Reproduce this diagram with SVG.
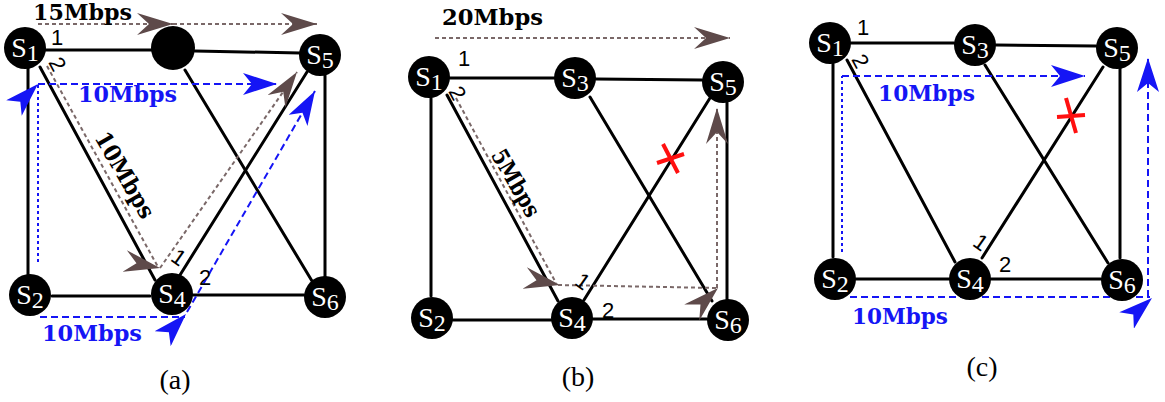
<svg xmlns="http://www.w3.org/2000/svg" width="1165" height="402" viewBox="0 0 1165 402">
<defs>
<style>
.e{stroke:#000;stroke-width:3;fill:none;stroke-linecap:round}
.bl{stroke:#1515f5;stroke-width:2;fill:none;stroke-dasharray:7 4}
.blp{stroke:#1515f5;stroke-width:2;fill:none;stroke-dasharray:3 3}
.br{stroke:#7a6868;stroke-width:2;fill:none;stroke-dasharray:4 3}
.hd{stroke:none;fill:none}
.nd circle{fill:#000}
.nd text{fill:#fff;font-family:"Liberation Serif",serif;font-size:28px;text-anchor:middle}
.sub{font-size:24px}
.pt{font-family:"Liberation Sans",sans-serif;font-size:22px;fill:#000;text-anchor:middle}
.rate{font-family:"DejaVu Serif",serif;font-weight:bold;font-size:23px;fill:#000}
.blue{fill:#1515f5}
.cap{font-family:"Liberation Serif",serif;font-size:28px;text-anchor:middle;fill:#000}
.x{stroke:#ff1010;stroke-width:4}
</style>
<marker id="mb" viewBox="0 0 34 22" refX="34" refY="11" markerWidth="34" markerHeight="22" markerUnits="userSpaceOnUse" orient="auto"><path d="M0,0 L34,11 L0,22 L9,11 z" fill="#1515f5"/></marker>
<marker id="mr" viewBox="0 0 36 22" refX="36" refY="11" markerWidth="36" markerHeight="22" markerUnits="userSpaceOnUse" orient="auto"><path d="M0,0 L36,11 L0,22 L12,11 z" fill="#5e4a4a"/></marker>
</defs>
<rect width="1165" height="402" fill="#fff"/>

<g id="connectors">
  <!-- panel a edges -->
  <line class="e" x1="45" y1="50" x2="152" y2="50"/>
  <line class="e" x1="195" y1="51" x2="300" y2="53"/>
  <line class="e" x1="28" y1="68" x2="28" y2="275"/>
  <line class="e" x1="40" y1="67" x2="155" y2="280"/>
  <line class="e" x1="185" y1="70" x2="312" y2="281"/>
  <line class="e" x1="307" y1="72" x2="180" y2="275"/>
  <line class="e" x1="325" y1="75" x2="325" y2="278"/>
  <line class="e" x1="52" y1="296" x2="150" y2="296"/>
  <line class="e" x1="193" y1="295" x2="304" y2="295"/>
  <!-- panel a flows -->
  <path class="br" d="M38,24 H173" marker-end="url(#mr)"/>
  <path class="br" d="M173,24 H317" marker-end="url(#mr)"/>
  <path class="br" d="M47,66 L158,267"/>
  <path class="hd" d="M140,264 L160,268" marker-end="url(#mr)"/>
  <path class="br" d="M160,268 L297,72" marker-end="url(#mr)"/>
  <path class="blp" d="M38,262 V84"/>
  <path class="bl" d="M38,84 H277" marker-end="url(#mb)"/>
  <path class="hd" d="M20,102 L38,84" marker-end="url(#mb)"/>
  <path class="bl" d="M40,317 H185"/>
  <path class="hd" d="M170,331 L186,314" marker-end="url(#mb)"/>
  <path class="bl" d="M187,312 L315,91" marker-end="url(#mb)"/>

  <!-- panel b edges -->
  <line class="e" x1="450" y1="78" x2="554" y2="78"/>
  <line class="e" x1="596" y1="79" x2="702" y2="80"/>
  <line class="e" x1="431" y1="98" x2="431" y2="296"/>
  <line class="e" x1="447" y1="95" x2="558" y2="301"/>
  <line class="e" x1="590" y1="97" x2="712" y2="301"/>
  <line class="e" x1="710" y1="98" x2="584" y2="300"/>
  <line class="e" x1="727" y1="103" x2="727" y2="300"/>
  <line class="e" x1="453" y1="320" x2="551" y2="320"/>
  <line class="e" x1="593" y1="319" x2="707" y2="319"/>
  <!-- panel b flows -->
  <path class="br" d="M435,38 H730" marker-end="url(#mr)"/>
  <path class="br" d="M456,98 L556,283"/>
  <path class="hd" d="M540,281 L560,285" marker-end="url(#mr)"/>
  <path class="br" d="M558,285 L717,288"/>
  <path class="hd" d="M702,303 L718,288" marker-end="url(#mr)"/>
  <path class="br" d="M717,288 V108" marker-end="url(#mr)"/>
  <line class="x" x1="657" y1="163" x2="684" y2="154"/>
  <line class="x" x1="663" y1="144" x2="678" y2="173"/>

  <!-- panel c edges -->
  <line class="e" x1="851" y1="43" x2="954" y2="43"/>
  <line class="e" x1="996" y1="45" x2="1096" y2="46"/>
  <line class="e" x1="833" y1="64" x2="833" y2="257"/>
  <line class="e" x1="847" y1="60" x2="955" y2="262"/>
  <line class="e" x1="985" y1="65" x2="1108" y2="263"/>
  <line class="e" x1="1103" y1="67" x2="982" y2="258"/>
  <line class="e" x1="1120" y1="68" x2="1120" y2="258"/>
  <line class="e" x1="856" y1="279" x2="949" y2="279"/>
  <line class="e" x1="991" y1="279" x2="1101" y2="279"/>
  <!-- panel c flows -->
  <path class="blp" d="M842,252 V76"/>
  <path class="bl" d="M842,76 H1085" marker-end="url(#mb)"/>
  <path class="bl" d="M850,297 H1150"/>
  <path class="hd" d="M1134,314 L1152,298" marker-end="url(#mb)"/>
  <path class="bl" d="M1148,297 V58" marker-end="url(#mb)"/>
  <line class="x" x1="1057" y1="117" x2="1085" y2="115"/>
  <line class="x" x1="1066" y1="98" x2="1076" y2="133"/>
</g>

<!-- panel a nodes -->
<g id="a-S1" class="nd"><circle cx="25" cy="48" r="21"/><text x="25" y="57">S<tspan class="sub" dy="4">1</tspan></text></g>
<g id="a-S3" class="nd"><circle cx="173" cy="48" r="22"/></g>
<g id="a-S5" class="nd"><circle cx="320" cy="55" r="21"/><text x="320" y="64">S<tspan class="sub" dy="4">5</tspan></text></g>
<g id="a-S2" class="nd"><circle cx="30" cy="295" r="21"/><text x="30" y="304">S<tspan class="sub" dy="4">2</tspan></text></g>
<g id="a-S4" class="nd"><circle cx="172" cy="294" r="21"/><text x="172" y="303">S<tspan class="sub" dy="4">4</tspan></text></g>
<g id="a-S6" class="nd"><circle cx="325" cy="297" r="21"/><text x="325" y="306">S<tspan class="sub" dy="4">6</tspan></text></g>

<!-- panel b nodes -->
<g id="b-S1" class="nd"><circle cx="429" cy="77" r="21"/><text x="429" y="86">S<tspan class="sub" dy="4">1</tspan></text></g>
<g id="b-S3" class="nd"><circle cx="575" cy="78" r="21"/><text x="575" y="87">S<tspan class="sub" dy="4">3</tspan></text></g>
<g id="b-S5" class="nd"><circle cx="723" cy="82" r="21"/><text x="723" y="91">S<tspan class="sub" dy="4">5</tspan></text></g>
<g id="b-S2" class="nd"><circle cx="432" cy="318" r="21"/><text x="432" y="327">S<tspan class="sub" dy="4">2</tspan></text></g>
<g id="b-S4" class="nd"><circle cx="572" cy="318" r="21"/><text x="572" y="327">S<tspan class="sub" dy="4">4</tspan></text></g>
<g id="b-S6" class="nd"><circle cx="728" cy="320" r="21"/><text x="728" y="329">S<tspan class="sub" dy="4">6</tspan></text></g>

<!-- panel c nodes -->
<g id="c-S1" class="nd"><circle cx="830" cy="43" r="21"/><text x="830" y="52">S<tspan class="sub" dy="4">1</tspan></text></g>
<g id="c-S3" class="nd"><circle cx="975" cy="45" r="21"/><text x="975" y="54">S<tspan class="sub" dy="4">3</tspan></text></g>
<g id="c-S5" class="nd"><circle cx="1117" cy="48" r="21"/><text x="1117" y="57">S<tspan class="sub" dy="4">5</tspan></text></g>
<g id="c-S2" class="nd"><circle cx="835" cy="279" r="21"/><text x="835" y="288">S<tspan class="sub" dy="4">2</tspan></text></g>
<g id="c-S4" class="nd"><circle cx="970" cy="279" r="21"/><text x="970" y="288">S<tspan class="sub" dy="4">4</tspan></text></g>
<g id="c-S6" class="nd"><circle cx="1122" cy="280" r="21"/><text x="1122" y="289">S<tspan class="sub" dy="4">6</tspan></text></g>

<!-- port labels -->
<g id="ports">
  <text class="pt" x="57" y="45">1</text>
  <text class="pt" transform="translate(58,64) rotate(62)" y="8">2</text>
  <text class="pt" transform="translate(179,257) rotate(35)" y="8">1</text>
  <text class="pt" x="205" y="285">2</text>
  <text class="pt" x="464" y="66">1</text>
  <text class="pt" transform="translate(458,93) rotate(62)" y="8">2</text>
  <text class="pt" transform="translate(583,281) rotate(35)" y="8">1</text>
  <text class="pt" x="608" y="318">2</text>
  <text class="pt" x="863" y="35">1</text>
  <text class="pt" transform="translate(861,61) rotate(62)" y="8">2</text>
  <text class="pt" transform="translate(981,242) rotate(35)" y="8">1</text>
  <text class="pt" x="1005" y="272">2</text>
</g>

<!-- rate labels -->
<g id="rates">
  <text class="rate" x="33" y="20" font-size="21" textLength="99" lengthAdjust="spacingAndGlyphs">15Mbps</text>
  <text class="rate blue" x="78" y="102" textLength="99" lengthAdjust="spacingAndGlyphs">10Mbps</text>
  <text class="rate blue" x="42" y="341" textLength="100" lengthAdjust="spacingAndGlyphs">10Mbps</text>
  <text class="rate" transform="translate(125,175) rotate(60)" x="0" y="8" text-anchor="middle" textLength="96" lengthAdjust="spacingAndGlyphs">10Mbps</text>
  <text class="rate" x="442" y="25" textLength="101" lengthAdjust="spacingAndGlyphs">20Mbps</text>
  <text class="rate" transform="translate(516,183) rotate(60)" x="0" y="8" text-anchor="middle" textLength="74" lengthAdjust="spacingAndGlyphs">5Mbps</text>
  <text class="rate blue" x="878" y="101" textLength="97" lengthAdjust="spacingAndGlyphs">10Mbps</text>
  <text class="rate blue" x="852" y="324" textLength="96" lengthAdjust="spacingAndGlyphs">10Mbps</text>
</g>

<g id="captions">
  <text class="cap" x="175" y="389">(a)</text>
  <text class="cap" x="578" y="386">(b)</text>
  <text class="cap" x="982" y="376">(c)</text>
</g>
</svg>
